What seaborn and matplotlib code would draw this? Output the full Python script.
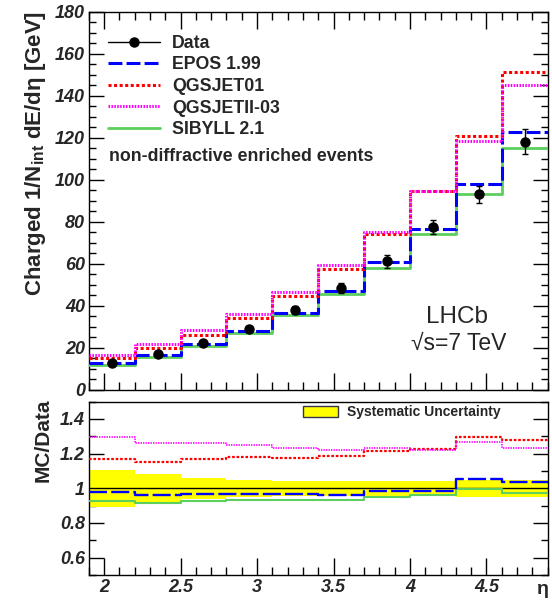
import numpy as np
import pandas as pd
import matplotlib
matplotlib.use("Agg")
import matplotlib.pyplot as plt
import seaborn as sns
from matplotlib.lines import Line2D
from matplotlib.patches import Patch
from matplotlib.ticker import MultipleLocator

# ---------------- data ----------------
eta_edges = [1.9, 2.2, 2.5, 2.8, 3.1, 3.4, 3.7, 4.0, 4.3, 4.6, 4.9]
eta_centers = [2.05, 2.35, 2.65, 2.95, 3.25, 3.55, 3.85, 4.15, 4.45, 4.75]

data_val = [13.0, 17.3, 22.5, 28.9, 37.9, 48.7, 61.3, 77.5, 93.2, 118.2]
data_err = [0.8, 1.0, 1.2, 1.5, 1.9, 2.4, 3.0, 3.3, 4.0, 6.0]

epos = [12.8, 16.7, 21.7, 28.3, 36.7, 47.3, 60.8, 76.5, 98.1, 122.7]
qgsjet01 = [15.3, 20.2, 26.0, 34.3, 44.6, 57.6, 74.3, 94.6, 120.8, 151.6]
qgsjetII = [16.8, 21.7, 28.4, 36.3, 46.5, 59.4, 75.1, 94.8, 118.6, 145.2]
sibyll = [12.1, 15.9, 20.8, 27.1, 35.7, 45.6, 58.3, 74.3, 93.2, 115.1]

r_epos = [0.977, 0.960, 0.969, 0.967, 0.965, 0.960, 0.986, 0.986, 1.052, 1.036]
r_qgsjet01 = [1.167, 1.153, 1.167, 1.179, 1.176, 1.188, 1.215, 1.225, 1.297, 1.278]
r_qgsjetII = [1.294, 1.259, 1.259, 1.251, 1.230, 1.220, 1.230, 1.222, 1.265, 1.230]
r_sibyll = [0.929, 0.917, 0.927, 0.933, 0.933, 0.930, 0.952, 0.960, 0.994, 0.975]
syst_unc = [0.107, 0.080, 0.060, 0.050, 0.045, 0.045, 0.045, 0.045, 0.050, 0.050]

labels = ["Data", "EPOS 1.99", "QGSJET01", "QGSJETII-03", "SIBYLL 2.1"]
y1_ticks = [0, 20, 40, 60, 80, 100, 120, 140, 160, 180]
y1_ticklabels = ["0", "20", "40", "60", "80", "100", "120", "140", "160", "180"]
y2_ticks = [0.6, 0.8, 1.0, 1.2, 1.4]
y2_ticklabels = ["0.6", "0.8", "1", "1.2", "1.4"]
x_ticks = [2.0, 2.5, 3.0, 3.5, 4.0, 4.5]
x_ticklabels = ["2", "2.5", "3", "3.5", "4", "4.5"]

# ---------------- style ----------------
sns.set_style("ticks")
plt.rcParams["font.family"] = ["Liberation Sans", "DejaVu Sans"]
plt.rcParams["mathtext.fontset"] = "custom"
plt.rcParams["mathtext.rm"] = "Liberation Sans:bold"
plt.rcParams["mathtext.it"] = "Liberation Sans:bold:italic"
plt.rcParams["mathtext.bf"] = "Liberation Sans:bold"
plt.rcParams["lines.scale_dashes"] = False
plt.rcParams["axes.linewidth"] = 1.0

C_EPOS = "#0000ff"
C_Q01 = "#ff0000"
C_QII = "#ff00ff"
C_SIB = "#5ccf5c"

fig = plt.figure(figsize=(5.52, 6.01), dpi=100)
ax1 = fig.add_axes([0.1607, 0.3511, 0.8315, 0.629])
ax2 = fig.add_axes([0.1607, 0.0433, 0.8315, 0.2884])


def step_frame(vals):
    return pd.DataFrame({"eta": eta_edges, "val": list(vals) + [vals[-1]]})


def draw_step(ax, vals, color, lw, ls, z):
    sns.lineplot(data=step_frame(vals), x="eta", y="val", ax=ax,
                 drawstyle="steps-post", color=color, lw=lw, linestyle=ls,
                 estimator=None, sort=False, zorder=z)
    return ax.lines[-1]


# ---------------- top panel ----------------
ls_epos_top = (0, (10.0, 3.0))
ls_q01_top = (0, (2.2, 1.8))
ls_qII_top = (0, (1.1, 1.0))

h_sib = draw_step(ax1, sibyll, C_SIB, 2.0, "-", 3)
h_epos = draw_step(ax1, epos, C_EPOS, 2.2, ls_epos_top, 4)
h_q01 = draw_step(ax1, qgsjet01, C_Q01, 2.2, ls_q01_top, 5)
h_qII = draw_step(ax1, qgsjetII, C_QII, 2.2, ls_qII_top, 6)

ax1.errorbar(eta_centers, data_val, yerr=data_err, fmt="o", color="black",
             ms=6.5, elinewidth=1.0, capsize=2.0, capthick=1.0, zorder=10)

ax1.set_xlim(1.9, 4.9)
ax1.set_ylim(0, 180)
ax1.set_xticks(x_ticks)
ax1.set_yticks(y1_ticks, y1_ticklabels, fontweight="bold", fontstyle="italic", fontsize=13)
ax1.xaxis.set_minor_locator(MultipleLocator(0.1))
ax1.yaxis.set_minor_locator(MultipleLocator(5))
ax1.tick_params(which="both", direction="in", top=True, right=True,
                labelbottom=False, color="black", width=1.0)
ax1.tick_params(axis="x", which="major", length=12.2)
ax1.tick_params(axis="x", which="minor", length=5.8)
ax1.tick_params(axis="y", which="major", length=10.6, pad=2.7)
ax1.tick_params(axis="y", which="minor", length=5.3)
ax1.set_xlabel("")
ax1.set_ylabel("Charged 1/N$_{\\mathrm{int}}$ dE/dη [GeV]", fontsize=16, fontweight="bold")
ax1.yaxis.label.set_va("center")
ax1.yaxis.set_label_coords(-0.117, 0.626)
for s in ax1.spines.values():
    s.set_visible(True)
    s.set_color("black")

h_data = Line2D([], [], color="black", marker="o", ms=6.5, lw=1.0)
leg1 = ax1.legend([h_data, h_epos, h_q01, h_qII, h_sib], labels,
                  loc="upper left", bbox_to_anchor=(0.042, 0.9395),
                  frameon=False, borderpad=0, borderaxespad=0,
                  handlelength=2.92, handletextpad=0.67, labelspacing=0.26,
                  prop={"weight": "bold", "size": 12.8})

ax1.text(0.044, (390 - 157) / 378, "non-diffractive enriched events",
         transform=ax1.transAxes, ha="left", va="center",
         fontsize=12.8, fontweight="bold")
ax1.text(0.803, 0.193, "LHCb", transform=ax1.transAxes, ha="center",
         va="center", fontsize=17.5)
ax1.text(0.805, 0.122, "√s=7 TeV", transform=ax1.transAxes, ha="center",
         va="center", fontsize=16.5)

# ---------------- ratio panel ----------------
upper = [1 + u for u in syst_unc]
lower = [1 - u for u in syst_unc]
ax2.fill_between(eta_edges, lower + [lower[-1]], upper + [upper[-1]],
                 step="post", color="#ffff00", lw=0, zorder=1)
ax2.axhline(1.0, color="black", lw=1.0, zorder=2)

draw_step(ax2, r_sibyll, C_SIB, 1.5, "-", 3)
draw_step(ax2, r_epos, C_EPOS, 1.7, (0, (13.0, 3.0)), 4)
draw_step(ax2, r_qgsjet01, C_Q01, 1.6, (0, (1.9, 1.3)), 5)
draw_step(ax2, r_qgsjetII, C_QII, 1.2, (0, (1.0, 0.8)), 6)

ax2.set_xlim(1.9, 4.9)
ax2.set_ylim(0.5, 1.5)
ax2.set_xticks(x_ticks, x_ticklabels, fontweight="bold", fontstyle="italic", fontsize=13)
ax2.set_yticks(y2_ticks, y2_ticklabels, fontweight="bold", fontstyle="italic", fontsize=13)
ax2.xaxis.set_minor_locator(MultipleLocator(0.1))
ax2.yaxis.set_minor_locator(MultipleLocator(0.1))
ax2.tick_params(which="both", direction="in", top=False, right=True,
                color="black", width=1.0)
ax2.tick_params(axis="x", which="major", length=12.2, pad=3)
ax2.tick_params(axis="x", which="minor", length=5.8)
ax2.tick_params(axis="y", which="major", length=10.6, pad=2.7)
ax2.tick_params(axis="y", which="minor", length=5.3)
ax2.set_ylabel("MC/Data", fontsize=15, fontweight="bold")
ax2.yaxis.label.set_va("center")
ax2.yaxis.set_label_coords(-0.0996, 0.779)
ax2.set_xlabel("η", fontsize=14, fontweight="bold")
ax2.xaxis.label.set_ha("right")
ax2.xaxis.label.set_va("baseline")
ax2.xaxis.set_label_coords(1.003, (575 - 594) / 173.3)
for s in ax2.spines.values():
    s.set_visible(True)
    s.set_color("black")

h_syst = Patch(facecolor="#ffff00", edgecolor="#333355", lw=1.0)
ax2.legend([h_syst], ["Systematic Uncertainty"], loc="upper left",
           bbox_to_anchor=(0.467, 0.978), frameon=False, borderpad=0,
           borderaxespad=0, handlelength=2.5, handleheight=0.9,
           handletextpad=0.65, prop={"weight": "bold", "size": 10})

fig.savefig("out.png", dpi=100)
